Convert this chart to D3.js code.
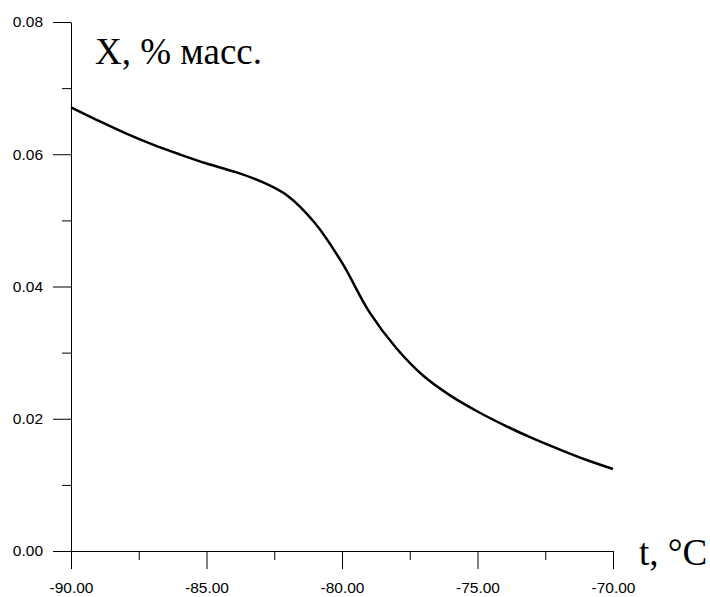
<!DOCTYPE html>
<html><head><meta charset="utf-8">
<script src="https://cdn.jsdelivr.net/npm/d3@7"></script>
<style>body{margin:0;background:#fff}</style>
</head><body>
<svg id="c" width="710" height="597"></svg>
<script>
const temps = [-90,-89,-88,-87,-86,-85,-84,-83,-82,-81,-80,-79,-78,-77,-76,-75,-74,-73,-72,-71,-70];
const values = [0.0671,0.0651,0.0632,0.0615,0.0600,0.0586,0.0574,0.0559,0.0537,0.0496,0.0436,0.0362,0.0307,0.0265,0.0235,0.0211,0.0190,0.0171,0.0154,0.0138,0.0124];
const xMajor = [-90,-85,-80,-75,-70];
const xMinor = [-87.5,-82.5,-77.5,-72.5];
const yMajor = [0,0.02,0.04,0.06,0.08];
const yMinor = [0.01,0.03,0.05,0.07];

const svg = d3.select("#c");
const x = d3.scaleLinear().domain([-90,-70]).range([71,613]);
const y = d3.scaleLinear().domain([0,0.08]).range([551,22]);

const loc = d3.formatLocale({decimal:".", thousands:",", grouping:[3], currency:["",""], minus:"-"});
const fmt = loc.format(".2f");
svg.append("g").attr("transform","translate(0,551)")
  .call(d3.axisBottom(x).tickValues(xMajor).tickSize(18).tickSizeOuter(0).tickPadding(13).tickFormat(fmt));
svg.append("g").attr("transform","translate(0,551)")
  .call(d3.axisBottom(x).tickValues(xMinor).tickSize(9).tickSizeOuter(0).tickFormat(""))
  .select(".domain").remove();
svg.append("g").attr("transform","translate(71,0)")
  .call(d3.axisLeft(y).tickValues(yMajor).tickSize(18).tickSizeOuter(0).tickPadding(10).tickFormat(fmt));
svg.append("g").attr("transform","translate(71,0)")
  .call(d3.axisLeft(y).tickValues(yMinor).tickSize(9).tickSizeOuter(0).tickFormat(""))
  .select(".domain").remove();

svg.selectAll("g").attr("font-size",15.5).attr("font-family","Liberation Sans, Arial, sans-serif");
svg.selectAll(".tick text").style("font-size","15.5px").style("font-family","Liberation Sans, Arial, sans-serif").attr("fill","#000");
svg.selectAll(".tick line, .domain").attr("stroke","#000").attr("stroke-width",1);

const line = d3.line().x((d,i)=>x(temps[i])).y(d=>y(d)).curve(d3.curveCatmullRom.alpha(0.5));
svg.append("path").datum(values).attr("d",line).attr("fill","none").attr("stroke","#000").attr("stroke-width",2.5);

svg.append("text").attr("x",95).attr("y",64).attr("font-family","Liberation Serif, Times New Roman, serif")
  .attr("font-size",37).text("X, % масс.");
svg.append("text").attr("x",639).attr("y",565).attr("font-family","Liberation Serif, Times New Roman, serif")
  .attr("font-size",37).text("t, °C");
</script>
</body></html>
